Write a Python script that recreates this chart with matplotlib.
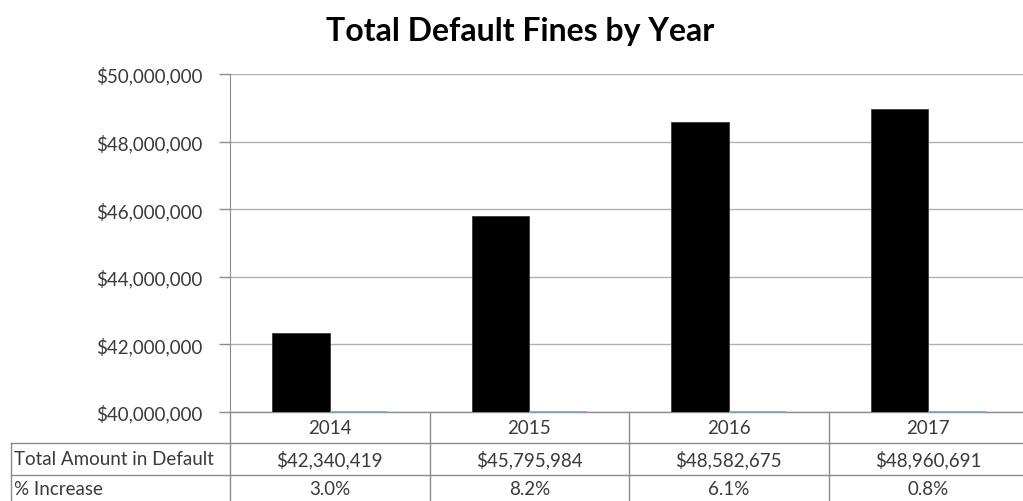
import matplotlib

matplotlib.use("Agg")
import matplotlib.pyplot as plt
from matplotlib.ticker import FuncFormatter

plt.rcParams["font.family"] = ["Lato", "DejaVu Sans"]

YEARS = ["2014", "2015", "2016", "2017"]
TOTAL_DEFAULT = [42340419, 45795984, 48582675, 48960691]
PCT_INCREASE = [3.0, 8.2, 6.1, 0.8]
ROW_LABELS = ["Total Amount in Default", "% Increase"]

Y_MIN, Y_MAX = 40_000_000, 50_000_000
TEXT_COLOR = "#3a3a3a"
GRID_COLOR = "#B0B0B0"
LINE_COLOR = "#8C8C8C"
PCT_COLOR = "#7F9FD8"

W, H = 1023, 502
fig = plt.figure(figsize=(W / 100, H / 100), dpi=100)
# plot area in pixels: x 230..1028, y 75..413
ax = fig.add_axes([230 / W, 1 - 413 / H, 798 / W, 338 / H])

xs = list(range(len(YEARS)))
bw = 0.287
ax.bar([x - bw / 2 for x in xs], TOTAL_DEFAULT, bw, color="black",
       edgecolor="#3a3a3a", linewidth=0.6, zorder=3)
# second series (percent) is tiny on this axis: only a sliver at the floor
ax.bar([x + bw / 2 for x in xs], [p / 100 for p in PCT_INCREASE], bw,
       bottom=Y_MIN, color=PCT_COLOR, edgecolor=PCT_COLOR, linewidth=1.2,
       zorder=3, clip_on=False)

ax.set_xlim(-0.5, len(YEARS) - 0.5)
ax.set_ylim(Y_MIN, Y_MAX)
ax.set_yticks(range(Y_MIN, Y_MAX + 1, 2_000_000))
ax.yaxis.set_major_formatter(FuncFormatter(lambda v, _p: f"${v:,.0f}"))
ax.tick_params(axis="y", length=8, width=1, color=LINE_COLOR, labelsize=13.5,
               labelcolor=TEXT_COLOR, pad=12)
ax.set_xticks([])
ax.grid(True, axis="y", color=GRID_COLOR, linewidth=1, zorder=0)
for side in ("top", "right", "bottom"):
    ax.spines[side].set_visible(False)
ax.spines["left"].set_color(LINE_COLOR)

fig.text(520 / W, 1 - 32 / H, "Total Default Fines by Year", fontsize=23,
         fontweight="bold", color="black", ha="center", va="center")

# data table under the plot, in data-x / axes-y coordinates
tr = ax.get_xaxis_transform()
px = 1 / 338  # one pixel in axes-y units
row_y = [0, -31 * px, -63 * px, -89 * px]
label_left = -0.5 - (230 - 11) / 199.5
line_kw = dict(color=LINE_COLOR, linewidth=1, transform=tr, clip_on=False)

ax.plot([-0.5, len(YEARS) + 0.5], [0, 0], **line_kw)
for yv in row_y[1:3]:
    ax.plot([label_left, len(YEARS) + 0.5], [yv, yv], **line_kw)
ax.plot([label_left, label_left], [row_y[1], row_y[3]], **line_kw)
for i in range(len(YEARS)):
    ax.plot([i - 0.5, i - 0.5], [0, row_y[3]], **line_kw)

text_kw = dict(transform=tr, fontsize=13.5, color=TEXT_COLOR, va="center",
               clip_on=False)
for i, year in enumerate(YEARS):
    ax.text(i, (row_y[0] + row_y[1]) / 2, year, ha="center", **text_kw)
    ax.text(i, (row_y[1] + row_y[2]) / 2, f"${TOTAL_DEFAULT[i]:,}",
            ha="center", **text_kw)
    ax.text(i, (row_y[2] + row_y[3]) / 2 - 1 * px, f"{PCT_INCREASE[i]:.1f}%",
            ha="center", **text_kw)
for r, label in enumerate(ROW_LABELS):
    yoff = -1 * px if r == 1 else 0
    ax.text(label_left + 0.015, (row_y[r + 1] + row_y[r + 2]) / 2 + yoff,
            label, ha="left", **text_kw)

fig.savefig("out.png", dpi=100)
